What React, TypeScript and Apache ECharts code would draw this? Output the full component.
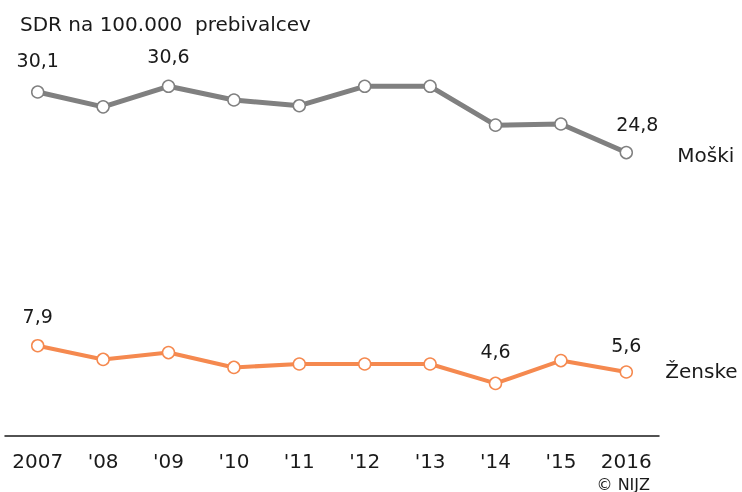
import React, { useEffect, useRef } from "react";
import * as echarts from "echarts";

const categories = ["2007", "'08", "'09", "'10", "'11", "'12", "'13", "'14", "'15", "2016"];
const moski = [30.1, 28.8, 30.6, 29.4, 28.9, 30.6, 30.6, 27.2, 27.3, 24.8];
const zenske = [7.9, 6.7, 7.3, 6.0, 6.3, 6.3, 6.3, 4.6, 6.6, 5.6];
const moskiLabeled = [0, 2, 9];
const zenskeLabeled = [0, 7, 9];
const titleText = "SDR na 100.000  prebivalcev";
const sourceText = "© NIJZ";

const FONT = "DejaVu Sans";
const fmt = (v: number) => v.toFixed(1).replace(".", ",");

function buildData(values: number[], labeled: number[], offsets: Record<number, [number, number]>) {
  return values.map((v, i) => {
    if (!labeled.includes(i)) return v;
    return {
      value: v,
      label: {
        show: true,
        position: "top",
        distance: 15,
        offset: offsets[i] || [0, 0],
        formatter: (p: any) => fmt(p.value),
        fontFamily: FONT,
        fontSize: 19,
        color: "#1a1a1a",
      },
    };
  });
}

export default function App() {
  const ref = useRef<HTMLDivElement>(null);
  useEffect(() => {
    if (!ref.current) return;
    const chart = echarts.init(ref.current, undefined, { renderer: "svg" });
    chart.setOption({
      animation: false,
      grid: { left: 5, right: 83, top: 36, bottom: 56 },
      title: {
        text: titleText,
        left: 15,
        top: 9,
        textStyle: { fontFamily: FONT, fontSize: 20, fontWeight: "normal", color: "#1a1a1a" },
      },
      graphic: [
        {
          type: "text",
          right: 92,
          top: 476,
          style: { text: sourceText, fontFamily: FONT, fontSize: 16, lineHeight: 16, fill: "#1a1a1a" },
        },
      ],
      xAxis: {
        type: "category",
        data: categories,
        boundaryGap: true,
        axisLine: { show: true, lineStyle: { color: "#1a1a1a", width: 1.5 } },
        axisTick: { show: false },
        axisLabel: { fontFamily: FONT, fontSize: 20, color: "#1a1a1a", margin: 15, interval: 0 },
      },
      yAxis: {
        type: "value",
        min: 0,
        max: 35,
        show: false,
        splitLine: { show: false },
      },
      series: [
        {
          name: "Moški",
          type: "line",
          data: buildData(moski, moskiLabeled, { 0: [0, -1], 2: [0, 1], 9: [11, 3] }),
          symbol: "circle",
          symbolSize: 12,
          itemStyle: { color: "#ffffff", borderColor: "#808080", borderWidth: 1.5 },
          lineStyle: { color: "#808080", width: 5 },
          endLabel: {
            show: true,
            formatter: "Moški",
            distance: 51,
            offset: [0, 2],
            fontFamily: FONT,
            fontSize: 20,
            color: "#1a1a1a",
          },
        },
        {
          name: "Ženske",
          type: "line",
          data: buildData(zenske, zenskeLabeled, { 0: [0, 2], 7: [0, -1], 9: [0, 4] }),
          symbol: "circle",
          symbolSize: 12,
          itemStyle: { color: "#ffffff", borderColor: "#f5894f", borderWidth: 1.5 },
          lineStyle: { color: "#f5894f", width: 4 },
          endLabel: {
            show: true,
            formatter: "Ženske",
            distance: 39,
            offset: [0, -1],
            fontFamily: FONT,
            fontSize: 20,
            color: "#1a1a1a",
          },
        },
      ],
    });
    return () => chart.dispose();
  }, []);
  return <div ref={ref} style={{ position: "fixed", left: 0, top: 0, width: 742, height: 492 }} />;
}
